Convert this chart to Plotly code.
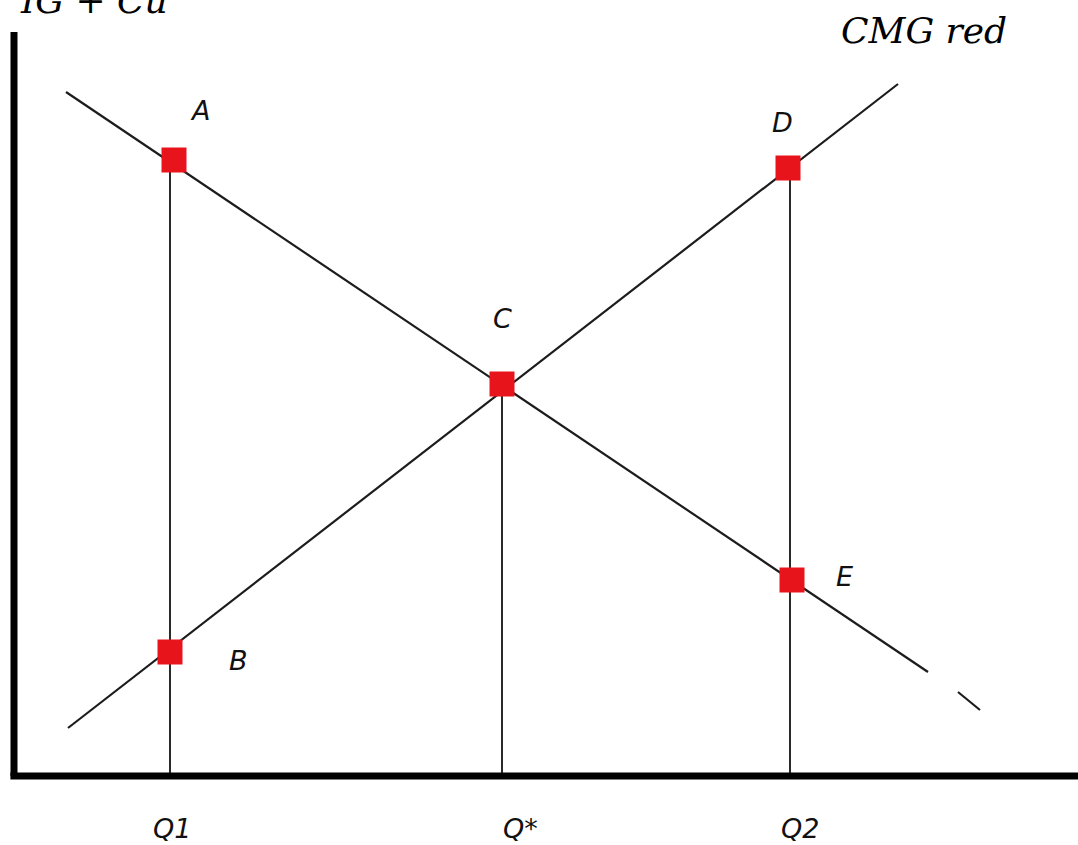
import plotly.graph_objects as go

# Quantities on the horizontal axis
q_names = ["Q1", "Q*", "Q2"]
q_values = [3.9, 12.2, 19.4]

# Downward-sloping curve (passes through A, C, E) and its short tail segment
down_x = [1.3, 22.85]
down_y = [17.1, 2.6]
down_tail_x = [23.6, 24.15]
down_tail_y = [2.1, 1.65]

# Upward-sloping curve (passes through B, C, D)
up_x = [1.35, 22.1]
up_y = [1.2, 17.3]

# Marked points
pt_names = ["A", "B", "C", "D", "E"]
pt_x = [4.0, 3.9, 12.2, 19.35, 19.45]
pt_y = [15.4, 3.1, 9.8, 15.2, 4.9]

# Heights where the vertical guides stop (A, C, D)
guide_top = [15.4, 9.8, 15.2]

curve_color = "#1c1c1c"
fig = go.Figure()

for xs, ys in [(down_x, down_y), (down_tail_x, down_tail_y), (up_x, up_y)]:
    fig.add_trace(go.Scatter(x=xs, y=ys, mode="lines",
                             line=dict(color=curve_color, width=2.2),
                             hoverinfo="skip", showlegend=False))

# Vertical guides from each curve point down to the quantity axis
for qx, top in zip(q_values, guide_top):
    fig.add_trace(go.Scatter(x=[qx, qx], y=[0, top], mode="lines",
                             line=dict(color="#2a2a2a", width=2),
                             hoverinfo="skip", showlegend=False))

fig.add_trace(go.Scatter(x=pt_x, y=pt_y, mode="markers",
                         marker=dict(symbol="square", size=25, color="#e8141c",
                                     line=dict(width=0)),
                         showlegend=False, hoverinfo="skip"))

# Axes drawn as thick black lines meeting at the origin
fig.add_shape(type="line", x0=0, y0=0, x1=0, y1=18.6,
              line=dict(color="black", width=7))
fig.add_shape(type="line", x0=-0.09, y0=0, x1=27, y1=0,
              line=dict(color="black", width=7))

label_font = dict(family="DejaVu Sans", size=27, color="#111")
pt_label_x = [4.65, 5.6, 12.2, 19.2, 20.75]
pt_label_y = [16.65, 2.9, 11.45, 16.35, 5.0]
for name, lx, ly in zip(pt_names, pt_label_x, pt_label_y):
    fig.add_annotation(x=lx, y=ly, text=f"<i>{name}</i>", showarrow=False,
                       font=label_font)

q_label_x = [3.95, 12.65, 19.65]
for name, lx in zip(q_names, q_label_x):
    fig.add_annotation(x=lx, y=-1.3, text=f"<i>{name}</i>", showarrow=False,
                       font=label_font)

serif = dict(family="DejaVu Serif", size=36, color="black")
fig.add_annotation(x=22.75, y=18.65, text="<i>CMG red</i>", showarrow=False,
                   font=serif)
fig.add_annotation(x=2.0, xref="x", y=1.0, yref="paper", yanchor="middle",
                   text="<i>IG + Cu</i>", showarrow=False, font=serif)

fig.update_layout(
    width=1078, height=845,
    margin=dict(l=0, r=0, t=0, b=0),
    paper_bgcolor="white", plot_bgcolor="white",
    xaxis=dict(range=[-0.35, 26.6], visible=False, fixedrange=True),
    yaxis=dict(range=[-1.725, 19.4], visible=False, fixedrange=True),
)

fig.write_html("out.html")
